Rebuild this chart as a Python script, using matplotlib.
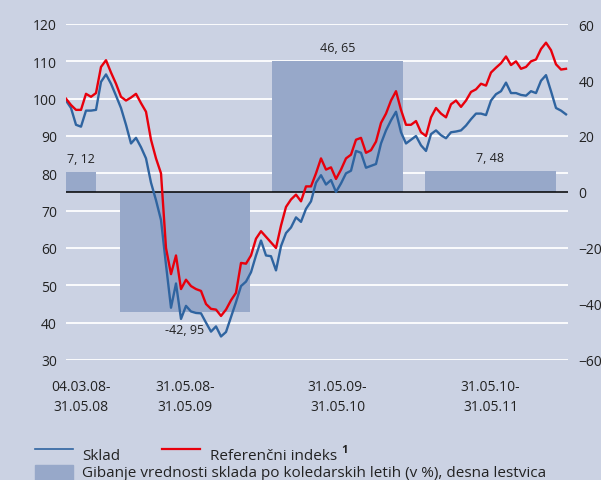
import matplotlib.pyplot as plt
from matplotlib.lines import Line2D
from matplotlib.patches import Rectangle
import numpy as np

plt.rcParams['font.family'] = ['Open Sans', 'DejaVu Sans']

# obdobja in donosi (desna lestvica, v %)
periods = ['04.03.08-\n31.05.08', '31.05.08-\n31.05.09', '31.05.09-\n31.05.10', '31.05.10-\n31.05.11']
period_returns = [7.12, -42.95, 46.65, 7.48]
period_labels = ['7, 12', '-42, 95', '46, 65', '7, 48']

# vrednost (leva lestvica), odcitano priblizno na vsakih ~8 trgovalnih dni
sklad = [99.5, 97.5, 93, 92.5, 96.8, 96.8, 97, 104.5, 106.5, 104,
         100.8, 97.5, 93, 88, 89.5, 87, 84, 77.5, 72.8, 67.5,
         55.5, 44, 50.5, 41, 44.5, 43, 42.6, 42.5, 40, 37.6,
         39, 36.3, 37.5, 41.5, 45.5, 49.8, 51, 53.5, 58, 62,
         58, 57.8, 54, 60.5, 64, 65.5, 68.2, 67, 70.5, 72.5,
         77.5, 79.5, 77, 78.2, 75, 77.3, 80, 80.7, 86, 85.5,
         81.5, 82, 82.5, 88, 91.5, 94.2, 96.5, 91, 88, 89,
         90, 87.5, 86, 90.5, 91.5, 90.2, 89.4, 91, 91.2, 91.5,
         92.8, 94.5, 96, 96, 95.6, 99.5, 101.2, 102, 104.3, 101.5,
         101.5, 101, 100.8, 102, 101.5, 104.8, 106.3, 102, 97.5, 96.8,
         95.8]
referencni = [100, 98.3, 97, 97, 101.3, 100.5, 101.5, 108.5, 110.3, 107,
              104, 100.5, 99.5, 100.3, 101.3, 98.8, 96.5, 89, 84, 80,
              60, 53, 58, 49, 51.5, 49.8, 49, 48.5, 45, 43.7,
              43.5, 41.8, 43.5, 46, 48, 56, 55.8, 58, 62.5, 64.5,
              63, 61.5, 60, 66, 71, 73, 74.3, 72.5, 76.5, 76.5,
              80, 84, 81, 81.6, 78.5, 81, 84, 85, 89, 89.5,
              85.5, 86.2, 88.5, 93.5, 96, 99.5, 102, 97, 93, 93,
              94, 91, 90, 95, 97.5, 96, 95, 98.5, 99.5, 97.8,
              99.5, 101.8, 102.5, 104, 103.5, 107, 108.3, 109.5, 111.3, 109,
              110, 108, 108.5, 110, 110.5, 113.3, 115, 113, 109.2, 107.8,
              108]

# postavitev stolpcev na casovni osi
bar_centers = [3.0, 23.8, 54.3, 84.9]
bar_widths = [6.0, 26.0, 26.2, 26.2]

BG = '#cbd2e3'
BAR = '#97a8c9'
BLUE = '#2f64a0'
RED = '#e8000c'
TXT = '#222222'

fig = plt.figure(figsize=(6.01, 4.81), dpi=100, facecolor=BG)
ax = fig.add_axes([66 / 601, 1 - 361 / 481, 502 / 601, 336 / 481])
ax.set_facecolor(BG)
ax2 = ax.twinx()

ax.grid(axis='y', color='white', lw=1.3)
ax.grid(axis='x', visible=False)
ax.set_axisbelow(True)

x = np.arange(len(sklad))
ax2.bar(bar_centers, period_returns, width=bar_widths, color=BAR, zorder=1)
ax2.axhline(0, color='black', lw=1.1, zorder=2)
ax2.plot(x, sklad, color=BLUE, lw=1.7, transform=ax.transData, zorder=3)
ax2.plot(x, referencni, color=RED, lw=1.7, transform=ax.transData, zorder=4)

for c, v, lbl in zip(bar_centers, period_returns, period_labels):
    if v >= 0:
        ax2.annotate(lbl, (c, v), xytext=(0, 7.2), textcoords='offset points',
                     ha='center', va='baseline', fontsize=9, color=TXT)
    else:
        ax2.annotate(lbl, (c, v), xytext=(0, -7.5), textcoords='offset points',
                     ha='center', va='top', fontsize=9, color=TXT)

ax.set_xlim(0, 100.4)
ax.set_ylim(30, 120)
ax.set_yticks(range(30, 121, 10))
ax2.set_ylim(-60, 60)
ax2.set_yticks(range(-60, 61, 20))
ax.set_xticks(bar_centers, labels=periods, linespacing=1.45)

for a in (ax, ax2):
    for s in a.spines.values():
        s.set_visible(False)
ax.tick_params(axis='y', length=0, pad=6.5, labelsize=10, labelcolor=TXT)
ax.tick_params(axis='x', length=0, pad=14, labelsize=10, labelcolor=TXT)
ax2.tick_params(axis='y', length=0, pad=7.5, labelsize=10, labelcolor=TXT)

# legenda
def fx(px):
    return px / 601

def fy(py):
    return 1 - py / 481

fig.add_artist(Line2D([fx(35), fx(73)], [fy(450), fy(450)], color=BLUE, lw=1.2))
fig.text(fx(82), fy(460), 'Sklad', fontsize=11, color=TXT, va='baseline')
fig.add_artist(Line2D([fx(162), fx(200)], [fy(450), fy(450)], color=RED, lw=1.6))
ref = fig.text(fx(210), fy(460), 'Referenčni indeks', fontsize=11, color=TXT, va='baseline')
fig.add_artist(Rectangle((fx(35), fy(490)), fx(38), fy(466) - fy(490), color=BAR))
fig.text(fx(82), fy(477), 'Gibanje vrednosti sklada po koledarskih letih (v %), desna lestvica',
         fontsize=11, color=TXT, va='baseline')

fig.canvas.draw()
bb = ref.get_window_extent()
fig.text((bb.x1 + 4) / 601, fy(453), '1', fontsize=8, fontweight='bold', color=TXT, va='baseline')

fig.savefig('out.png', dpi=100, facecolor=BG)
